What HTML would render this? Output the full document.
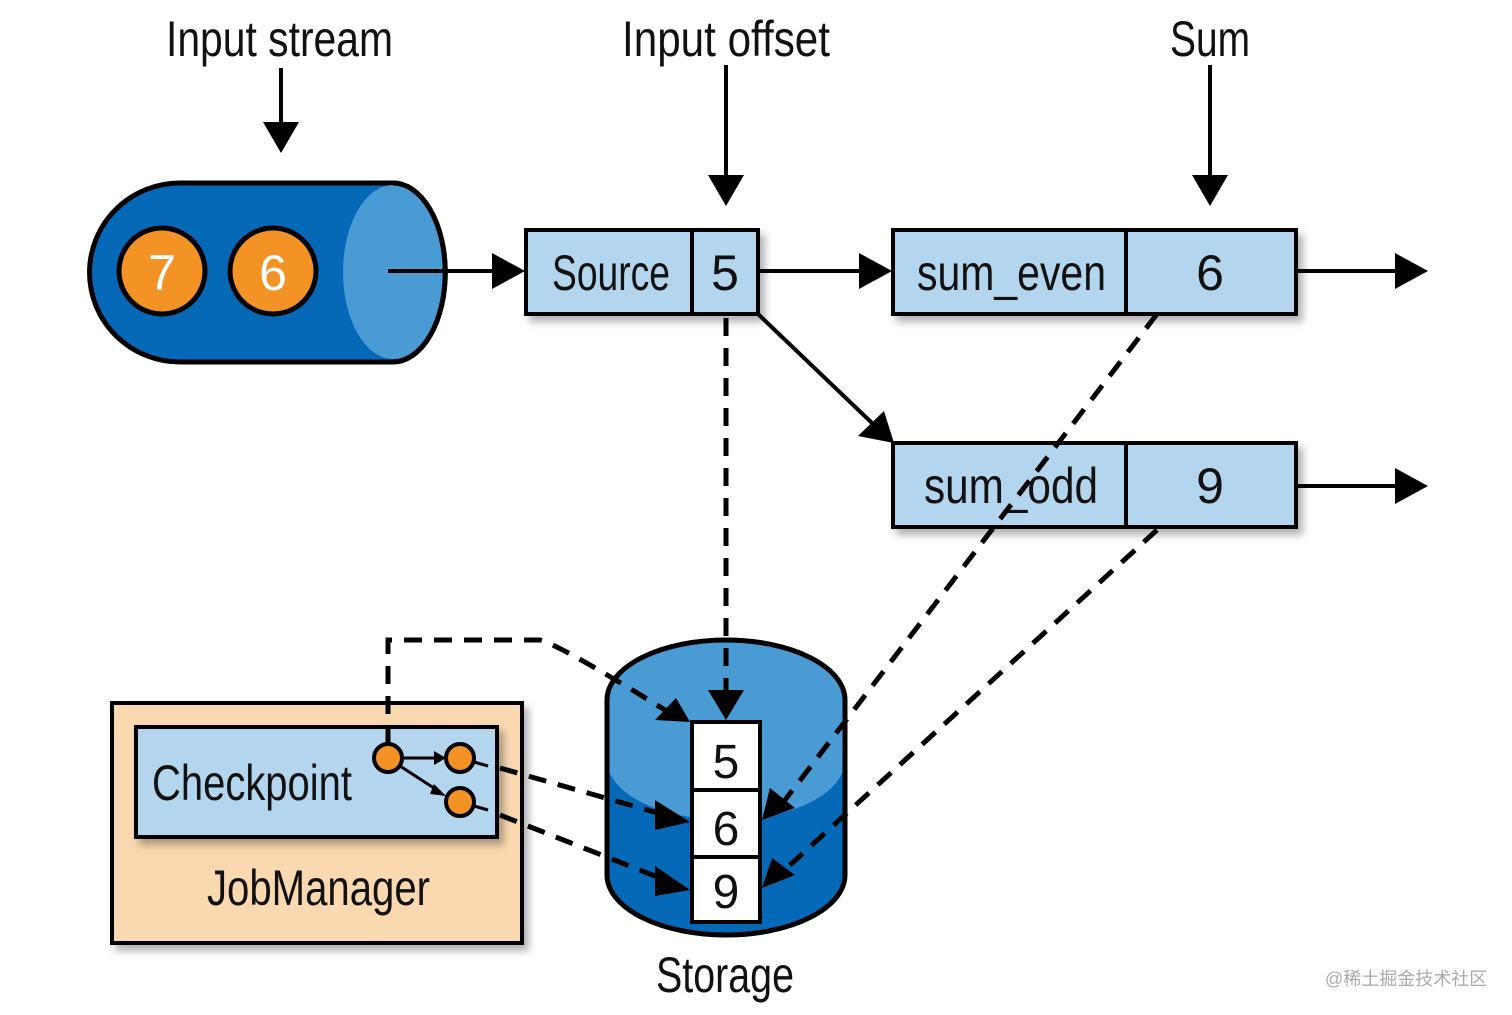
<!DOCTYPE html>
<html><head><meta charset="utf-8"><style>
html,body{margin:0;padding:0;background:#fff;}
svg{display:block}
text{font-family:"Liberation Sans Narrow","Liberation Sans",sans-serif;fill:#111;}
</style></head><body>
<svg width="1512" height="1015" viewBox="0 0 1512 1015" xmlns="http://www.w3.org/2000/svg">
<defs>
<marker id="ah" markerWidth="10" markerHeight="10" refX="9" refY="5" orient="auto" markerUnits="userSpaceOnUse" viewBox="0 0 10 10">
</marker>
<filter id="sh" x="-10%" y="-10%" width="130%" height="130%"><feDropShadow dx="5" dy="6" stdDeviation="4" flood-color="#000" flood-opacity="0.3"/></filter>
<clipPath id="cyl"><path d="M607,700 L607,875 A119,60 0 0 0 845,875 L845,700 A119,60 0 0 0 607,700 Z"/></clipPath>
</defs>

<!-- Top labels -->
<text x="166" y="56" font-size="50" textLength="227" lengthAdjust="spacingAndGlyphs">Input stream</text>
<text x="622" y="56" font-size="50" textLength="208" lengthAdjust="spacingAndGlyphs">Input offset</text>
<text x="1170" y="56" font-size="50" textLength="80" lengthAdjust="spacingAndGlyphs">Sum</text>

<g stroke="#000" stroke-width="4" fill="none">
<line x1="281" y1="68" x2="281" y2="125"/>
<line x1="726" y1="65" x2="726" y2="178"/>
<line x1="1210" y1="65" x2="1210" y2="178"/>
</g>
<g fill="#000">
<polygon points="263,122 299,122 281,153"/>
<polygon points="708,175 744,175 726,206"/>
<polygon points="1192,175 1228,175 1210,206"/>
</g>

<!-- Input stream cylinder -->
<path d="M180,183 L393,183 A52,89 0 0 1 393,362 L180,362 A90,89 0 0 1 180,183 Z" fill="#0569b8" stroke="#000" stroke-width="5"/>
<ellipse cx="393" cy="272" rx="50" ry="87" fill="#4a9bd4"/>
<path d="M393,183 A52,89 0 0 1 393,362" fill="none" stroke="#000" stroke-width="5"/>
<circle cx="162" cy="271" r="43" fill="#f39325" stroke="#000" stroke-width="5"/>
<circle cx="273" cy="271" r="43" fill="#f39325" stroke="#000" stroke-width="5"/>
<text x="162" y="290" font-size="50" text-anchor="middle" style="fill:#fff">7</text>
<text x="273" y="290" font-size="50" text-anchor="middle" style="fill:#fff">6</text>

<!-- arrows main -->
<g stroke="#000" stroke-width="4">
<line x1="388" y1="271" x2="495" y2="271"/>
<line x1="758" y1="271" x2="862" y2="271"/>
<line x1="1296" y1="271" x2="1398" y2="271"/>
<line x1="1296" y1="486" x2="1398" y2="486"/>
<line x1="758" y1="314" x2="872" y2="423"/>
</g>
<g fill="#000">
<polygon points="492,253 525,271 492,289"/>
<polygon points="859,253 892,271 859,289"/>
<polygon points="1395,253 1428,271 1395,289"/>
<polygon points="1395,468 1428,486 1395,504"/>
<polygon points="858,436 884,411 894,443"/>
</g>

<!-- boxes -->
<g filter="url(#sh)" stroke="#000" stroke-width="4" fill="#b3d6ee">
<rect x="526" y="230" width="232" height="84"/>
<rect x="893" y="230" width="403" height="84"/>
<rect x="893" y="443" width="403" height="84"/>
</g>
<g stroke="#000" stroke-width="4">
<line x1="692" y1="230" x2="692" y2="314"/>
<line x1="1126" y1="230" x2="1126" y2="314"/>
<line x1="1126" y1="443" x2="1126" y2="527"/>
</g>
<text x="552" y="290" font-size="50" textLength="118" lengthAdjust="spacingAndGlyphs">Source</text>
<text x="725" y="290" font-size="50" text-anchor="middle">5</text>
<text x="917" y="290" font-size="50" textLength="189" lengthAdjust="spacingAndGlyphs">sum_even</text>
<text x="1210" y="290" font-size="50" text-anchor="middle">6</text>
<text x="924" y="503" font-size="50" textLength="174" lengthAdjust="spacingAndGlyphs">sum_odd</text>
<text x="1210" y="503" font-size="50" text-anchor="middle">9</text>

<!-- JobManager -->
<rect x="112" y="703" width="410" height="240" fill="#fad9b0" stroke="#000" stroke-width="4" filter="url(#sh)"/>
<rect x="136" y="727" width="361" height="110" fill="#b3d6ee" stroke="#000" stroke-width="4" filter="url(#sh)"/>
<text x="152" y="800" font-size="50" textLength="200" lengthAdjust="spacingAndGlyphs">Checkpoint</text>
<text x="207" y="905" font-size="50" textLength="223" lengthAdjust="spacingAndGlyphs">JobManager</text>

<!-- Storage cylinder -->
<g clip-path="url(#cyl)">
<rect x="600" y="630" width="250" height="320" fill="#0569b8"/>
<ellipse cx="726" cy="700" rx="119" ry="60" fill="#4a9bd4"/>
<path d="M607,700 L607,760 A119,60 0 0 0 845,760 L845,700 Z" fill="#4a9bd4"/>
</g>
<path d="M607,700 L607,875 A119,60 0 0 0 845,875 L845,700 A119,60 0 0 0 607,700 Z" fill="none" stroke="#000" stroke-width="5"/>
<rect x="692" y="722" width="68" height="200" fill="#fff" stroke="#000" stroke-width="4"/>
<line x1="692" y1="790" x2="760" y2="790" stroke="#000" stroke-width="4"/>
<line x1="692" y1="857" x2="760" y2="857" stroke="#000" stroke-width="4"/>
<text x="726" y="778" font-size="48" text-anchor="middle">5</text>
<text x="726" y="845" font-size="48" text-anchor="middle">6</text>
<text x="726" y="908" font-size="48" text-anchor="middle">9</text>
<text x="656" y="992" font-size="50" textLength="138" lengthAdjust="spacingAndGlyphs">Storage</text>

<!-- dashed lines -->
<g stroke="#000" stroke-width="5" fill="none" stroke-dasharray="18,12">
<line x1="726" y1="318" x2="726" y2="690"/>
<path d="M388,744 L388,640 L540,640 Q560,645 665,710"/>
<line x1="500" y1="768" x2="665" y2="815"/>
<line x1="500" y1="815" x2="665" y2="880"/>
<line x1="1157" y1="314" x2="785" y2="800"/>
<line x1="1157" y1="530" x2="790" y2="865"/>
</g>
<g fill="#000">
<polygon points="708,690 744,690 726,720"/>
<polygon points="655,720 676,698 690,722"/>
<polygon points="655,800 690,822 655,830"/>
<polygon points="655,866 690,890 655,896"/>
<polygon points="762,820 770,788 795,808"/>
<polygon points="762,888 772,858 795,875"/>
</g>

<!-- small checkpoint circles -->
<g stroke="#000" stroke-width="3">
<line x1="402" y1="758" x2="438" y2="758"/>
<line x1="400" y1="766" x2="440" y2="792"/>
<line x1="474" y1="762" x2="488" y2="766"/>
<line x1="474" y1="806" x2="488" y2="810"/>
</g>
<polygon points="434,751 446,758 434,765" fill="#000"/>
<polygon points="434,784 446,796 430,794" fill="#000"/>
<circle cx="388" cy="758" r="14" fill="#f39325" stroke="#000" stroke-width="4"/>
<circle cx="460" cy="758" r="14" fill="#f39325" stroke="#000" stroke-width="4"/>
<circle cx="460" cy="802" r="14" fill="#f39325" stroke="#000" stroke-width="4"/>

<text x="1325" y="985" font-size="18" style="fill:#aaa;font-family:'Liberation Sans','Noto Sans CJK SC',sans-serif">@稀土掘金技术社区</text>
</svg>
</body></html>
